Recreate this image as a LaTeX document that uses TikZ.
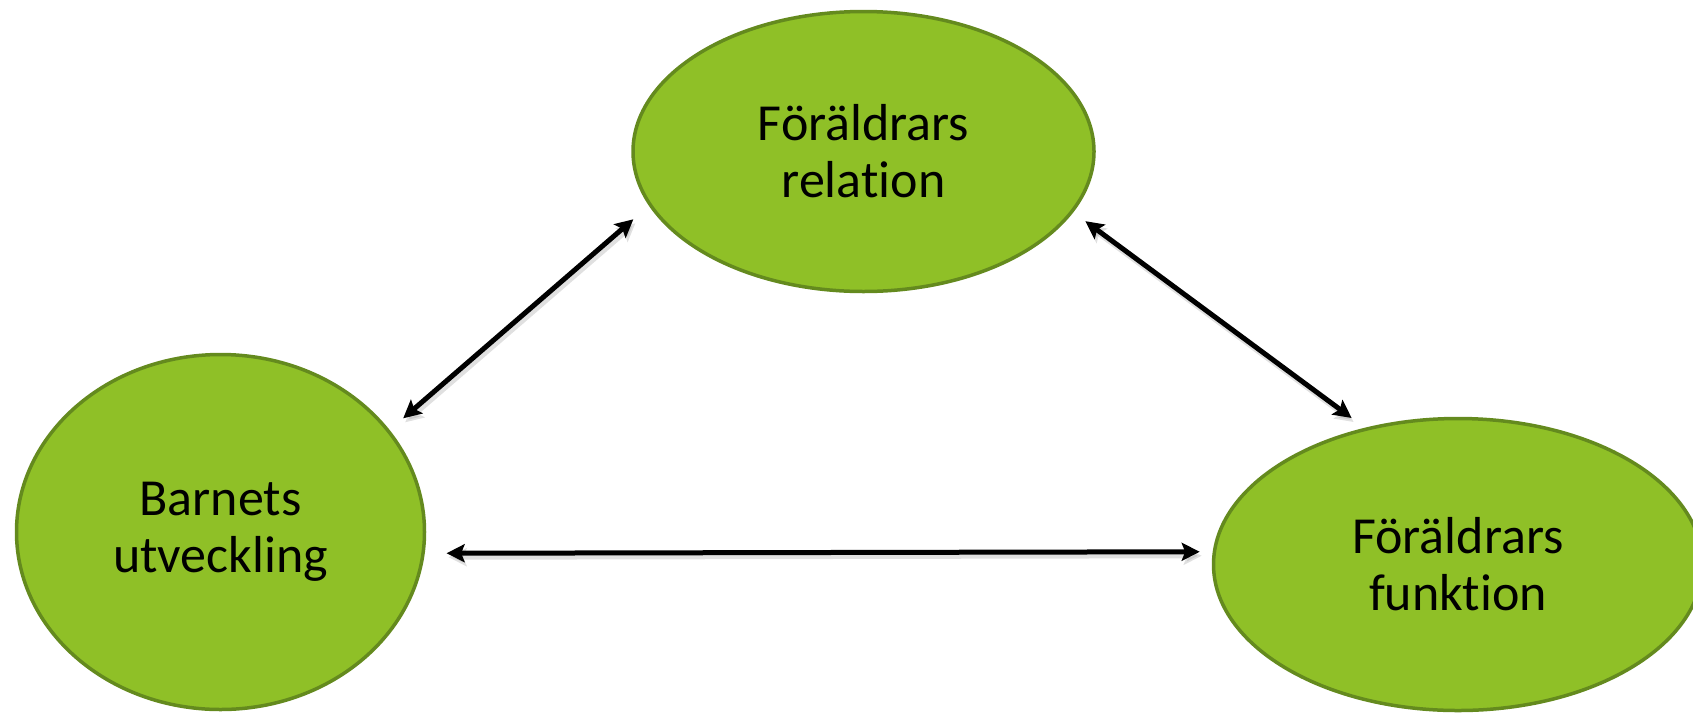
\documentclass[tikz,border=0pt]{standalone}
\usepackage{fontspec}
\setmainfont{Carlito}[Ligatures=NoCommon]
\usetikzlibrary{arrows.meta,shapes.geometric}
\definecolor{ovalfill}{RGB}{143,192,39}
\definecolor{ovalline}{RGB}{100,138,30}
\tikzset{
  oval/.style={ellipse, draw=ovalline, fill=ovalfill, line width=3.5pt, inner sep=0pt, outer sep=0pt,
    align=center, font=\fontsize{52}{57}\selectfont, text=black},
  link/.style={{Stealth[length=18pt,width=18pt,inset=3.5pt]}-{Stealth[length=18pt,width=18pt,inset=3.5pt]},
    line width=5pt, draw=black},
  linkshadow/.style={link, draw=black!40, opacity=0.3, transform canvas={xshift=2pt,yshift=-4pt}}
}
\begin{document}
\begin{tikzpicture}[x=1pt,y=-1pt]
\useasboundingbox (0,0) rectangle (1693,713);
\clip (0,0) rectangle (1693,713);
\node[oval, minimum width=461pt, minimum height=280pt] (T) at (863.5,151.5) {Föräldrars\\relation};
\node[oval, minimum width=408pt, minimum height=355pt] (L) at (220.5,532) {Barnets\\utveckling};
\node[oval, minimum width=489pt, minimum height=292pt] (R) at (1458,564.5) {Föräldrars\\funktion};
% shadows
\draw[linkshadow, shorten <=19.6pt, shorten >=22.4pt] (L.31.22) -- (T.194.3);
\draw[linkshadow, shorten <=16.7pt, shorten >=18.7pt] (T.344.2) -- (R.124.6);
\draw[linkshadow, shorten <=23.6pt, shorten >=14.75pt] (L.-6.2) -- (R.177.3);
% connectors
\draw[link, shorten <=19.6pt, shorten >=22.4pt] (L.31.22) -- (T.194.3);
\draw[link, shorten <=16.7pt, shorten >=18.7pt] (T.344.2) -- (R.124.6);
\draw[link, shorten <=23.6pt, shorten >=14.75pt] (L.-6.2) -- (R.177.3);
\end{tikzpicture}
\end{document}
